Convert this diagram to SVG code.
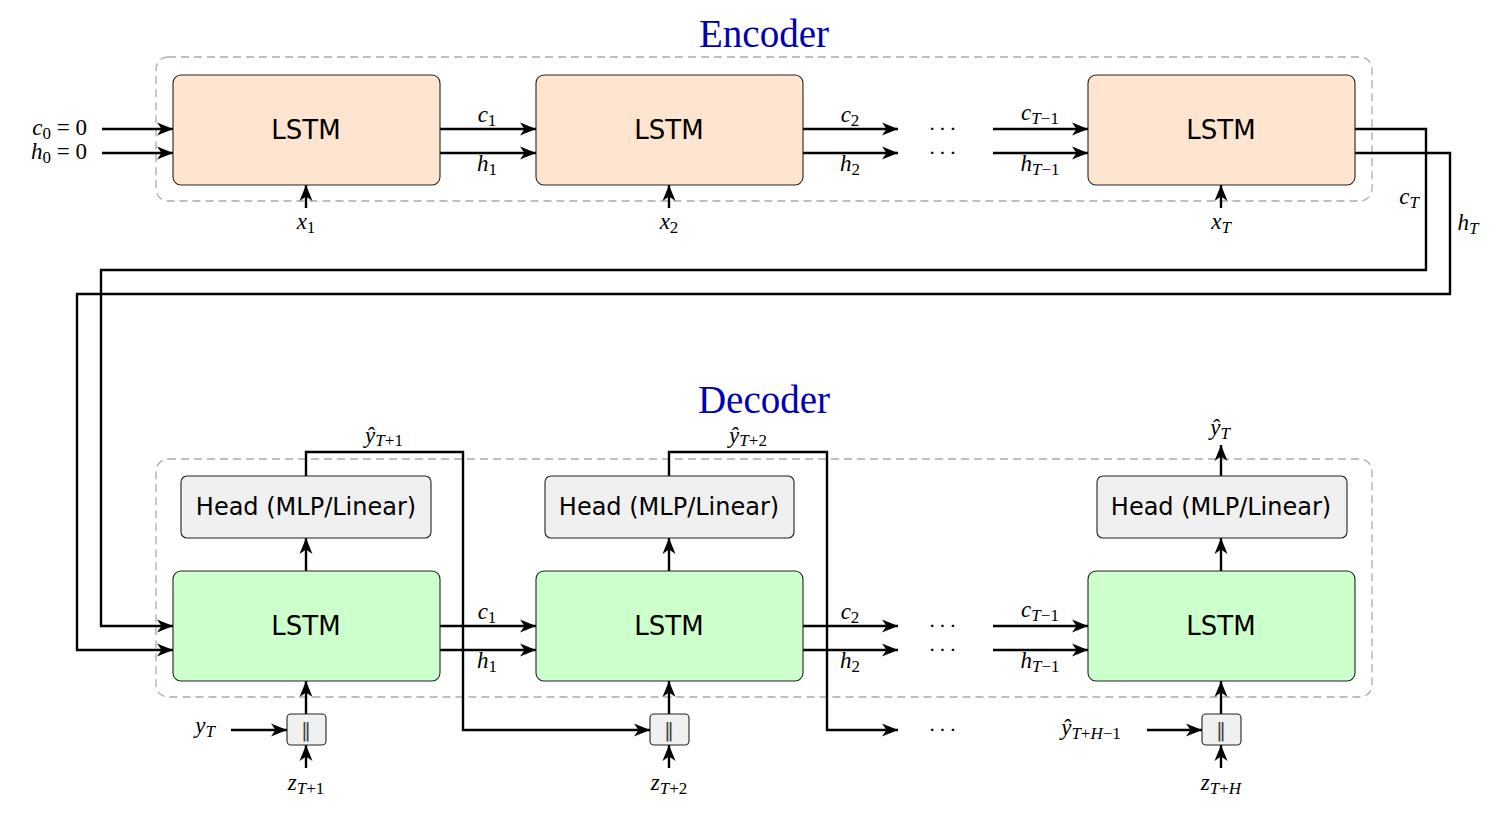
<svg xmlns="http://www.w3.org/2000/svg" width="1504" height="816" viewBox="0 0 1504 816">
<style>
.bg{fill:#ffffff}
.grp{fill:none;stroke:#aaaaaa;stroke-width:1.3;stroke-dasharray:8,5}
.enc{fill:#ffe5cf;stroke:#222;stroke-width:1.1}
.dec{fill:#ccffcc;stroke:#222;stroke-width:1.1}
.head{fill:#f0f0f0;stroke:#222;stroke-width:1.1}
.cat{fill:#f0f0f0;stroke:#222;stroke-width:1.1}
.ar{fill:none;stroke:#000;stroke-width:2.4;marker-end:url(#ah)}
.lbl{font-family:"DejaVu Sans","Liberation Sans",sans-serif;font-size:26px;fill:#000;text-anchor:middle}
.hl{font-family:"DejaVu Sans","Liberation Sans",sans-serif;font-size:24px;fill:#000;text-anchor:middle}
.bar{font-family:"DejaVu Sans",sans-serif;font-size:20px;fill:#444;text-anchor:middle}
.ttl{font-family:"Liberation Serif","DejaVu Serif",serif;font-size:39px;fill:#0000b3;text-anchor:middle}
.m{font-family:"Liberation Serif","DejaVu Serif",serif;font-size:23px;fill:#000;text-anchor:middle}
.me{font-family:"Liberation Serif","DejaVu Serif",serif;font-size:23px;fill:#000;text-anchor:end}
.i{font-style:italic}
.s{font-size:17px}
.dots{font-family:"Liberation Serif","DejaVu Serif",serif;font-size:22px;fill:#000;text-anchor:middle;letter-spacing:3px}
</style>
<defs>
<marker id="ah" markerUnits="userSpaceOnUse" markerWidth="18" markerHeight="14" refX="16" refY="7" orient="auto">
<path d="M0,0.5 L16,7 L0,13.5 L4.5,7 Z" fill="#000"/>
</marker>
</defs>
<rect class="bg" x="0" y="0" width="1504" height="816"/>

<g id="encoder-group">
<rect class="grp" x="156" y="57" width="1216" height="144" rx="12"/>
<text class="ttl" x="764" y="47">Encoder</text>
</g>
<g id="decoder-group">
<rect class="grp" x="156" y="459" width="1216" height="238" rx="12"/>
<text class="ttl" x="764" y="413">Decoder</text>
</g>

<g id="connectors">
<line class="ar" x1="102" y1="129" x2="173" y2="129"/>
<line class="ar" x1="102" y1="153" x2="173" y2="153"/>
<line class="ar" x1="440" y1="129" x2="536" y2="129"/>
<line class="ar" x1="440" y1="153" x2="536" y2="153"/>
<line class="ar" x1="803" y1="129" x2="898" y2="129"/>
<line class="ar" x1="803" y1="153" x2="898" y2="153"/>
<line class="ar" x1="993" y1="129" x2="1088" y2="129"/>
<line class="ar" x1="993" y1="153" x2="1088" y2="153"/>
<line class="ar" x1="306" y1="208" x2="306" y2="185"/>
<line class="ar" x1="669" y1="208" x2="669" y2="185"/>
<line class="ar" x1="1221" y1="208" x2="1221" y2="185"/>
<polyline class="ar" points="1355,129 1426,129 1426,270 101,270 101,626 173,626"/>
<polyline class="ar" points="1355,153 1450,153 1450,294 77,294 77,650 173,650"/>
<line class="ar" x1="440" y1="626" x2="536" y2="626"/>
<line class="ar" x1="440" y1="650" x2="536" y2="650"/>
<line class="ar" x1="803" y1="626" x2="898" y2="626"/>
<line class="ar" x1="803" y1="650" x2="898" y2="650"/>
<line class="ar" x1="993" y1="626" x2="1088" y2="626"/>
<line class="ar" x1="993" y1="650" x2="1088" y2="650"/>
<line class="ar" x1="306" y1="571" x2="306" y2="538"/>
<line class="ar" x1="669" y1="571" x2="669" y2="538"/>
<line class="ar" x1="1221" y1="571" x2="1221" y2="538"/>
<polyline class="ar" points="306,476 306,452 463,452 463,730 650,730"/>
<polyline class="ar" points="669,476 669,452 827,452 827,730 898,730"/>
<line class="ar" x1="1221" y1="476" x2="1221" y2="445"/>
<line class="ar" x1="306" y1="714" x2="306" y2="681"/>
<line class="ar" x1="669" y1="714" x2="669" y2="681"/>
<line class="ar" x1="1221" y1="714" x2="1221" y2="681"/>
<line class="ar" x1="306" y1="768" x2="306" y2="745"/>
<line class="ar" x1="669" y1="768" x2="669" y2="745"/>
<line class="ar" x1="1221" y1="768" x2="1221" y2="745"/>
<line class="ar" x1="231" y1="730" x2="287" y2="730"/>
<line class="ar" x1="1147" y1="730" x2="1202" y2="730"/>
</g>

<g id="enc-lstm-1"><rect class="enc" x="173" y="75" width="267" height="110" rx="8"/><text class="lbl" x="306" y="139">LSTM</text></g>
<g id="enc-lstm-2"><rect class="enc" x="536" y="75" width="267" height="110" rx="8"/><text class="lbl" x="669" y="139">LSTM</text></g>
<g id="enc-lstm-T"><rect class="enc" x="1088" y="75" width="267" height="110" rx="8"/><text class="lbl" x="1221" y="139">LSTM</text></g>

<g id="dec-lstm-1"><rect class="dec" x="173" y="571" width="267" height="110" rx="8"/><text class="lbl" x="306" y="635">LSTM</text></g>
<g id="dec-lstm-2"><rect class="dec" x="536" y="571" width="267" height="110" rx="8"/><text class="lbl" x="669" y="635">LSTM</text></g>
<g id="dec-lstm-H"><rect class="dec" x="1088" y="571" width="267" height="110" rx="8"/><text class="lbl" x="1221" y="635">LSTM</text></g>

<g id="head-1"><rect class="head" x="181" y="476" width="250" height="62" rx="6"/><text class="hl" x="306" y="515">Head (MLP/Linear)</text></g>
<g id="head-2"><rect class="head" x="545" y="476" width="249" height="62" rx="6"/><text class="hl" x="669" y="515">Head (MLP/Linear)</text></g>
<g id="head-H"><rect class="head" x="1097" y="476" width="250" height="62" rx="6"/><text class="hl" x="1221" y="515">Head (MLP/Linear)</text></g>

<g id="cat-1"><rect class="cat" x="287" y="714" width="39" height="31" rx="4"/><text class="bar" x="306" y="737">‖</text></g>
<g id="cat-2"><rect class="cat" x="650" y="714" width="39" height="31" rx="4"/><text class="bar" x="669" y="737">‖</text></g>
<g id="cat-H"><rect class="cat" x="1202" y="714" width="39" height="31" rx="4"/><text class="bar" x="1221" y="737">‖</text></g>

<g id="labels">
<text class="me" x="87" y="135"><tspan class="i">c</tspan><tspan class="s" dy="4">0</tspan><tspan dy="-4"> = 0</tspan></text>
<text class="me" x="87" y="159"><tspan class="i">h</tspan><tspan class="s" dy="4">0</tspan><tspan dy="-4"> = 0</tspan></text>

<text class="m" x="487" y="122"><tspan class="i">c</tspan><tspan class="s" dy="4">1</tspan></text>
<text class="m" x="487" y="171"><tspan class="i">h</tspan><tspan class="s" dy="4">1</tspan></text>
<text class="m" x="850" y="122"><tspan class="i">c</tspan><tspan class="s" dy="4">2</tspan></text>
<text class="m" x="850" y="171"><tspan class="i">h</tspan><tspan class="s" dy="4">2</tspan></text>
<text class="dots" x="944" y="136">···</text>
<text class="dots" x="944" y="160">···</text>
<text class="m" x="1040" y="120"><tspan class="i">c</tspan><tspan class="s" dy="4"><tspan class="i">T</tspan>−1</tspan></text>
<text class="m" x="1040" y="171"><tspan class="i">h</tspan><tspan class="s" dy="4"><tspan class="i">T</tspan>−1</tspan></text>
<text class="m" x="306" y="229"><tspan class="i">x</tspan><tspan class="s" dy="4">1</tspan></text>
<text class="m" x="669" y="229"><tspan class="i">x</tspan><tspan class="s" dy="4">2</tspan></text>
<text class="m" x="1221" y="229"><tspan class="i">x</tspan><tspan class="s i" dy="4">T</tspan></text>
<text class="m" x="1409" y="204"><tspan class="i">c</tspan><tspan class="s i" dy="4">T</tspan></text>
<text class="m" x="1468" y="230"><tspan class="i">h</tspan><tspan class="s i" dy="4">T</tspan></text>

<text class="m" x="487" y="619"><tspan class="i">c</tspan><tspan class="s" dy="4">1</tspan></text>
<text class="m" x="487" y="668"><tspan class="i">h</tspan><tspan class="s" dy="4">1</tspan></text>
<text class="m" x="850" y="619"><tspan class="i">c</tspan><tspan class="s" dy="4">2</tspan></text>
<text class="m" x="850" y="668"><tspan class="i">h</tspan><tspan class="s" dy="4">2</tspan></text>
<text class="dots" x="944" y="633">···</text>
<text class="dots" x="944" y="657">···</text>
<text class="dots" x="944" y="737">···</text>
<text class="m" x="1040" y="617"><tspan class="i">c</tspan><tspan class="s" dy="4"><tspan class="i">T</tspan>−1</tspan></text>
<text class="m" x="1040" y="668"><tspan class="i">h</tspan><tspan class="s" dy="4"><tspan class="i">T</tspan>−1</tspan></text>

<text class="m" x="384" y="443"><tspan class="i">ŷ</tspan><tspan class="s" dy="3"><tspan class="i">T</tspan>+1</tspan></text>
<text class="m" x="748" y="443"><tspan class="i">ŷ</tspan><tspan class="s" dy="3"><tspan class="i">T</tspan>+2</tspan></text>
<text class="m" x="1220" y="435"><tspan class="i">ŷ</tspan><tspan class="s i" dy="4">T</tspan></text>

<text class="m" x="205" y="733"><tspan class="i">y</tspan><tspan class="s i" dy="4">T</tspan></text>
<text class="m" x="1091" y="735"><tspan class="i">ŷ</tspan><tspan class="s" dy="4"><tspan class="i">T</tspan>+<tspan class="i">H</tspan>−1</tspan></text>
<text class="m" x="306" y="790"><tspan class="i">z</tspan><tspan class="s" dy="4"><tspan class="i">T</tspan>+1</tspan></text>
<text class="m" x="669" y="790"><tspan class="i">z</tspan><tspan class="s" dy="4"><tspan class="i">T</tspan>+2</tspan></text>
<text class="m" x="1221" y="790"><tspan class="i">z</tspan><tspan class="s" dy="4"><tspan class="i">T</tspan>+<tspan class="i">H</tspan></tspan></text>
</g>
</svg>
